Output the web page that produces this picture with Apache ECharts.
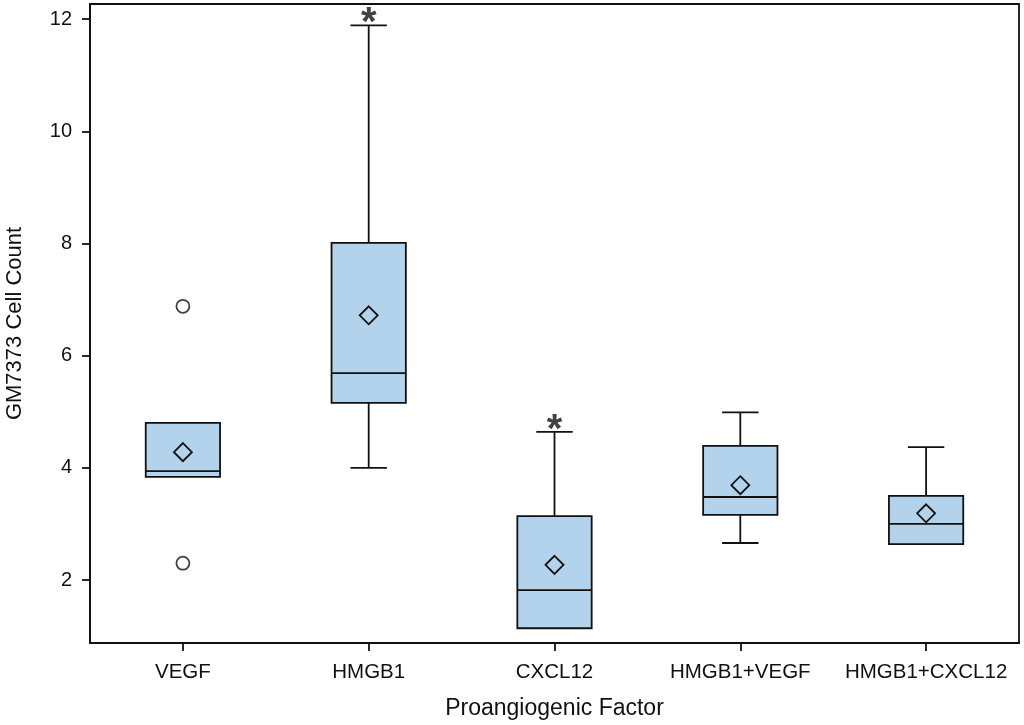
<!DOCTYPE html>
<html>
<head>
<meta charset="utf-8">
<script src="https://cdn.jsdelivr.net/npm/echarts@6/dist/echarts.min.js"></script>
<style>
  html, body { margin: 0; padding: 0; background: #fff; }
  #main { width: 1024px; height: 725px; }
</style>
</head>
<body>
<div id="main"></div>
<script>
// categories on the x axis
var factors = ['VEGF', 'HMGB1', 'CXCL12', 'HMGB1+VEGF', 'HMGB1+CXCL12'];

// box statistics (one value per factor)
var whiskerLow  = [3.84, 4.00, 1.14, 2.66, 2.64];
var quart1      = [3.84, 5.16, 1.14, 3.16, 2.64];
var medians     = [3.94, 5.69, 1.82, 3.48, 3.00];
var quart3      = [4.80, 8.01, 3.14, 4.39, 3.50];
var whiskerHigh = [4.80, 11.89, 4.64, 4.99, 4.37];
var means       = [4.28, 6.72, 2.27, 3.69, 3.19];

// outliers: [category index, value]
var outliers = [[0, 6.88], [0, 2.30]];

// groups marked with an asterisk above the top whisker
var starred = ['HMGB1', 'CXCL12'];

var yTicks = [2, 4, 6, 8, 10, 12];

var lineColor = '#111';
var boxFill = '#b3d2eb';
var font = 'Liberation Sans, Arial, sans-serif';
var lw = 1.8;

var boxData = factors.map(function (f, i) {
  return [i, whiskerLow[i], quart1[i], medians[i], quart3[i], whiskerHigh[i], means[i]];
});

var starData = starred.map(function (name) {
  var i = factors.indexOf(name);
  return [i, whiskerHigh[i]];
});

function renderBox(params, api) {
  var x = api.value(0);
  var lo = api.value(1), q1 = api.value(2), med = api.value(3);
  var q3 = api.value(4), hi = api.value(5), mean = api.value(6);
  var band = api.size([1, 0])[0];
  var half = band * 0.2;
  var capHalf = band * 0.098;
  var pLo = api.coord([x, lo]), pQ1 = api.coord([x, q1]), pMed = api.coord([x, med]);
  var pQ3 = api.coord([x, q3]), pHi = api.coord([x, hi]), pMean = api.coord([x, mean]);
  var cx = pQ1[0];
  var st = { stroke: lineColor, lineWidth: lw, fill: null };
  var kids = [];

  if (hi > q3) {
    kids.push({ type: 'line', shape: { x1: cx, y1: pQ3[1], x2: cx, y2: pHi[1] }, style: st });
    kids.push({ type: 'line', shape: { x1: cx - capHalf, y1: pHi[1], x2: cx + capHalf, y2: pHi[1] }, style: st });
  }
  if (lo < q1) {
    kids.push({ type: 'line', shape: { x1: cx, y1: pQ1[1], x2: cx, y2: pLo[1] }, style: st });
    kids.push({ type: 'line', shape: { x1: cx - capHalf, y1: pLo[1], x2: cx + capHalf, y2: pLo[1] }, style: st });
  }
  kids.push({
    type: 'rect',
    shape: { x: cx - half, y: pQ3[1], width: half * 2, height: pQ1[1] - pQ3[1] },
    style: { fill: boxFill, stroke: lineColor, lineWidth: lw }
  });
  kids.push({ type: 'line', shape: { x1: cx - half, y1: pMed[1], x2: cx + half, y2: pMed[1] }, style: st });
  // mean diamond
  var d = 9;
  kids.push({
    type: 'polygon',
    shape: { points: [[cx, pMean[1] - d], [cx + d, pMean[1]], [cx, pMean[1] + d], [cx - d, pMean[1]]] },
    style: { fill: null, stroke: lineColor, lineWidth: lw }
  });
  return { type: 'group', children: kids };
}

var chart = echarts.init(document.getElementById('main'));

var option = {
  animation: false,
  backgroundColor: '#fff',
  grid: {
    left: 90, right: 5, top: 4, bottom: 82,
    outerBoundsMode: 'none',
    show: true, borderColor: lineColor, borderWidth: lw
  },
  xAxis: {
    type: 'category',
    data: factors,
    name: 'Proangiogenic Factor',
    nameLocation: 'middle',
    nameGap: 54,
    nameTextStyle: { fontFamily: font, fontSize: 23, color: '#111' },
    axisLine: { lineStyle: { color: lineColor, width: lw } },
    axisTick: { show: true, interval: 0, alignWithLabel: true, length: 8, lineStyle: { color: lineColor, width: lw } },
    axisLabel: { interval: 0, fontFamily: font, fontSize: 20.5, color: '#111', margin: 19 },
    splitLine: { show: false }
  },
  yAxis: {
    type: 'value',
    min: 0.877,
    max: 12.27,
    name: 'GM7373 Cell Count',
    nameLocation: 'middle',
    nameGap: 64,
    nameTextStyle: { fontFamily: font, fontSize: 22, color: '#111' },
    axisLine: { show: true, lineStyle: { color: lineColor, width: lw } },
    axisTick: { show: true, length: 8, customValues: yTicks, lineStyle: { color: lineColor, width: lw } },
    axisLabel: { fontFamily: font, fontSize: 20, color: '#111', margin: 18, customValues: yTicks },
    splitLine: { show: false }
  },
  series: [
    {
      type: 'custom',
      renderItem: renderBox,
      data: boxData,
      encode: { x: 0, y: [1, 2, 3, 4, 5, 6] },
      z: 2
    },
    {
      type: 'scatter',
      data: outliers,
      symbol: 'circle',
      symbolSize: 13,
      itemStyle: { color: '#fff', borderColor: lineColor, borderWidth: lw },
      z: 3
    },
    {
      type: 'scatter',
      data: starData,
      symbolSize: 0,
      label: {
        show: true,
        position: 'top',
        distance: -19,
        formatter: '*',
        fontFamily: font,
        fontSize: 40,
        fontWeight: 'bold',
        color: '#111'
      },
      z: 3
    }
  ]
};

chart.setOption(option);
</script>
</body>
</html>
